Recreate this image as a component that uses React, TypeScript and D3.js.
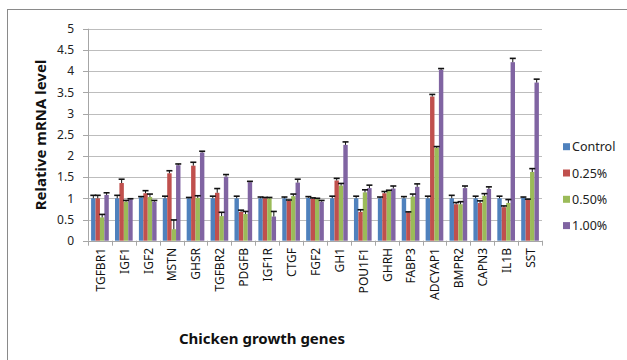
import React from "react";
import * as d3 from "d3";

// Gene names on the category axis
const genes = [
  "TGFBR1", "IGF1", "IGF2", "MSTN", "GHSR", "TGFBR2", "PDGFB", "IGF1R", "CTGF", "FGF2",
  "GH1", "POU1F1", "GHRH", "FABP3", "ADCYAP1", "BMPR2", "CAPN3", "IL1B", "SST",
];

const seriesNames = ["Control", "0.25%", "0.50%", "1.00%"];

// Mean relative expression per treatment
const control = [1.0, 1.0, 1.02, 1.0, 1.0, 1.0, 1.0, 1.0, 1.0, 1.01, 1.0, 1.0, 1.0, 1.0, 1.0, 1.0, 1.0, 1.0, 1.02];
const dose025 = [1.0, 1.36, 1.12, 1.59, 1.77, 1.13, 0.68, 1.0, 0.94, 0.99, 1.42, 0.68, 1.12, 0.67, 3.4, 0.86, 0.89, 0.79, 0.97];
const dose050 = [0.55, 0.92, 1.03, 0.27, 1.01, 0.58, 0.63, 1.0, 1.05, 0.98, 1.3, 1.14, 1.17, 1.04, 2.19, 0.86, 1.06, 0.89, 1.62];
const dose100 = [1.08, 0.98, 0.92, 1.78, 2.08, 1.51, 1.38, 0.57, 1.37, 0.92, 2.26, 1.24, 1.23, 1.27, 4.03, 1.24, 1.22, 4.21, 3.73];

// Upper error (standard error) per treatment
const controlErr = [0.07, 0.07, 0.02, 0.05, 0.02, 0.05, 0.05, 0.03, 0.03, 0.03, 0.05, 0.05, 0.03, 0.04, 0.05, 0.07, 0.05, 0.05, 0.01];
const dose025Err = [0.07, 0.09, 0.06, 0.06, 0.08, 0.1, 0.04, 0.02, 0.02, 0.02, 0.05, 0.05, 0.04, 0.01, 0.05, 0.04, 0.05, 0.03, 0.01];
const dose050Err = [0.07, 0.03, 0.07, 0.22, 0.05, 0.09, 0.06, 0.02, 0.05, 0.02, 0.05, 0.06, 0.02, 0.06, 0.03, 0.06, 0.05, 0.08, 0.08];
const dose100Err = [0.05, 0.01, 0.03, 0.03, 0.03, 0.05, 0.02, 0.12, 0.08, 0.03, 0.07, 0.07, 0.06, 0.07, 0.03, 0.05, 0.05, 0.09, 0.08];

const yTicks = [0, 0.5, 1, 1.5, 2, 2.5, 3, 3.5, 4, 4.5, 5];

const colors = ["#4F81BD", "#C0504D", "#9BBB59", "#8064A2"];

const W = 627;
const H = 360;
const FONT = "'Noto Sans', 'DejaVu Sans', sans-serif";

export default function App() {
  const values = [control, dose025, dose050, dose100];
  const errs = [controlErr, dose025Err, dose050Err, dose100Err];

  const left = 88;
  const right = 542;
  const top = 28.7;
  const bottom = 240.7;

  const x = d3.scaleBand<string>().domain(genes).range([left, right]).paddingInner(0.26).paddingOuter(0.13);
  const xs = d3.scaleBand<string>().domain(seriesNames).range([0, x.bandwidth()]).padding(0);
  const y = d3.scaleLinear().domain([0, 5]).range([bottom, top]);

  const step = x.step();
  const boundaries = d3.range(genes.length + 1).map((i) => left + i * step);

  return (
    <svg width={W} height={H} style={{ position: "absolute", left: 0, top: 0, background: "#fff" }}>
      <rect x={0} y={0} width={W} height={H} fill="#fff" />
      {/* outer frame */}
      <rect x={7.5} y={9.5} width={700} height={400} fill="none" stroke="#8a8a8a" strokeWidth={1} />

      {/* gridlines */}
      {yTicks.filter((t) => t > 0).map((t) => (
        <line key={t} x1={left} x2={right} y1={Math.round(y(t)) + 0.5} y2={Math.round(y(t)) + 0.5} stroke="#bdbdbd" strokeWidth={1} />
      ))}

      {/* y axis */}
      <line x1={left + 0.5} x2={left + 0.5} y1={top} y2={bottom} stroke="#a6a6a6" />
      {yTicks.map((t) => (
        <g key={t}>
          <line x1={left - 5} x2={left} y1={Math.round(y(t)) + 0.5} y2={Math.round(y(t)) + 0.5} stroke="#a6a6a6" />
          <text x={74} y={y(t)} dy="0.36em" textAnchor="end" fontFamily={FONT} fontSize={12} fill="#222">
            {t}
          </text>
        </g>
      ))}

      {/* bars */}
      {values.map((vals, s) => (
        <g key={s}>
          {vals.map((v, i) => {
            const bx = (x(genes[i]) as number) + (xs(seriesNames[s]) as number);
            return (
              <rect key={i} x={bx} y={y(v)} width={xs.bandwidth()} height={bottom - y(v)} fill={colors[s]} />
            );
          })}
        </g>
      ))}

      {/* error bars */}
      {values.map((vals, s) => (
        <g key={"e" + s}>
          {vals.map((v, i) => {
            const cx = (x(genes[i]) as number) + (xs(seriesNames[s]) as number) + xs.bandwidth() / 2;
            const yt = y(v + errs[s][i]);
            return (
              <g key={i}>
                <line x1={cx} x2={cx} y1={y(v)} y2={yt} stroke="#111" strokeWidth={1} />
                <line x1={cx - 3} x2={cx + 3} y1={yt} y2={yt} stroke="#111" strokeWidth={1.6} />
              </g>
            );
          })}
        </g>
      ))}

      {/* x axis */}
      <line x1={left} x2={right} y1={Math.round(bottom) + 0.5} y2={Math.round(bottom) + 0.5} stroke="#a6a6a6" />
      {boundaries.map((bx, i) => (
        <line key={i} x1={Math.round(bx) + 0.5} x2={Math.round(bx) + 0.5} y1={bottom} y2={bottom + 5} stroke="#a6a6a6" />
      ))}
      {genes.map((g) => {
        const cx = (x(g) as number) + x.bandwidth() / 2 + 0.5;
        return (
          <text
            key={g}
            transform={`translate(${cx},248) rotate(-90)`}
            textAnchor="end"
            dy="0.36em"
            fontFamily={FONT}
            fontSize={12}
            fill="#111"
          >
            {g}
          </text>
        );
      })}

      {/* axis titles */}
      <text
        transform={`translate(41,135) rotate(-90)`}
        textAnchor="middle"
        dy="0.36em"
        fontFamily={FONT}
        fontSize={15}
        fontWeight="bold"
        fill="#111"
      >
        Relative mRNA level
      </text>
      <text x={262} y={344} textAnchor="middle" fontFamily={FONT} fontSize={15} fontWeight="bold" fill="#111">
        Chicken growth genes
      </text>

      {/* legend */}
      {seriesNames.map((name, s) => {
        const ly = 146.7 + s * 26.3;
        return (
          <g key={name}>
            <rect x={563} y={ly - 3.5} width={7} height={7} fill={colors[s]} />
            <text x={572} y={ly} dy="0.36em" fontFamily={FONT} fontSize={12.5} fill="#222">
              {name}
            </text>
          </g>
        );
      })}
    </svg>
  );
}
